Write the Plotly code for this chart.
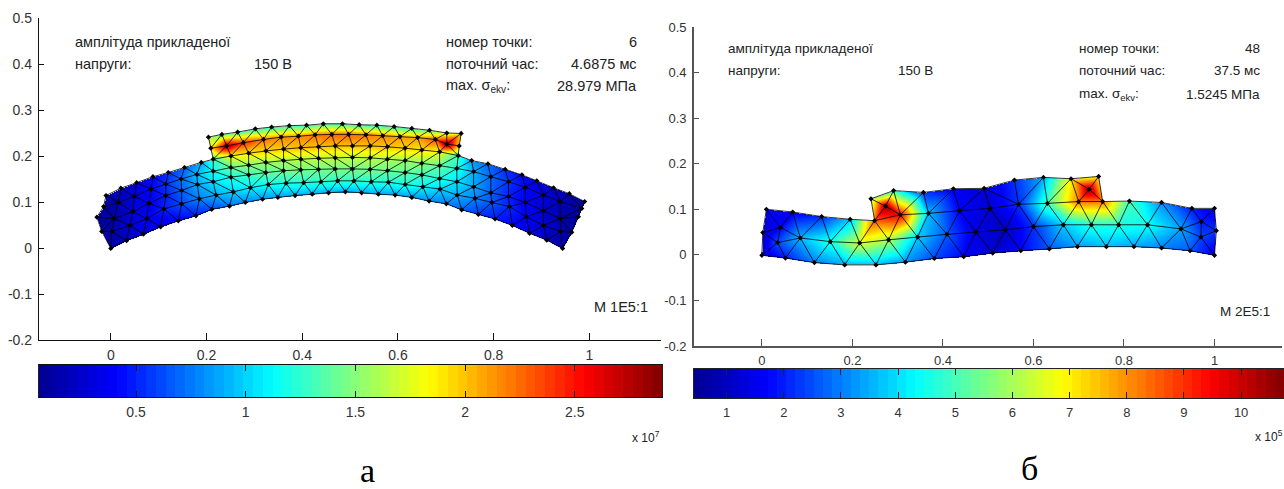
import numpy as np
import plotly.graph_objects as go

W, H = 1284, 489

# ---------- left mesh (rows of nodes, bottom to top), stress in 1e7 Pa ----------
L0_X = [0.000,0.033,0.068,0.104,0.141,0.178,0.211,0.248,0.281,0.317,0.349,0.385,0.421,0.455,0.490,0.524,0.559,0.594,0.629,0.665,0.701,0.733,0.768,0.803,0.839,0.875,0.911,0.944]
L0_Y = [-0.001,0.016,0.030,0.046,0.059,0.070,0.084,0.091,0.099,0.106,0.110,0.114,0.117,0.120,0.122,0.120,0.117,0.115,0.110,0.102,0.096,0.083,0.073,0.063,0.049,0.032,0.017,-0.001]
L0_V = [0.12,0.20,0.28,0.33,0.40,0.48,0.60,0.72,0.78,0.82,0.85,0.87,0.88,0.88,0.88,0.88,0.87,0.86,0.84,0.80,0.75,0.68,0.55,0.48,0.40,0.30,0.20,0.12]
L1_X = [-0.019,0.002,0.040,0.075,0.111,0.148,0.185,0.220,0.256,0.292,0.329,0.366,0.403,0.439,0.474,0.508,0.544,0.580,0.615,0.652,0.688,0.724,0.761,0.796,0.833,0.868,0.904,0.940,0.963]
L1_Y = [0.036,0.036,0.049,0.064,0.085,0.096,0.107,0.115,0.122,0.131,0.138,0.141,0.142,0.144,0.146,0.146,0.144,0.143,0.138,0.133,0.128,0.115,0.108,0.099,0.090,0.068,0.049,0.036,0.034]
L1_V = [0.12,0.15,0.28,0.38,0.50,0.62,0.78,0.90,1.00,1.08,1.15,1.20,1.22,1.25,1.25,1.25,1.22,1.20,1.18,1.10,1.00,0.90,0.78,0.65,0.52,0.40,0.28,0.18,0.12]
L2_X = [-0.029,0.007,0.046,0.080,0.115,0.148,0.181,0.214,0.251,0.288,0.324,0.361,0.397,0.434,0.469,0.505,0.542,0.578,0.615,0.650,0.687,0.723,0.758,0.794,0.831,0.866,0.904,0.939,0.977]
L2_Y = [0.067,0.064,0.079,0.097,0.114,0.125,0.138,0.144,0.154,0.159,0.164,0.168,0.170,0.171,0.172,0.172,0.171,0.168,0.164,0.159,0.151,0.144,0.133,0.120,0.112,0.099,0.081,0.064,0.068]
L2_V = [0.08,0.14,0.28,0.38,0.50,0.68,0.88,1.05,1.20,1.30,1.38,1.42,1.45,1.45,1.45,1.45,1.45,1.42,1.38,1.30,1.20,1.05,0.88,0.68,0.50,0.38,0.25,0.14,0.10]
L3_X = [-0.015,0.016,0.049,0.084,0.115,0.147,0.180,0.214,0.251,0.288,0.324,0.361,0.397,0.434,0.469,0.505,0.542,0.578,0.615,0.650,0.687,0.723,0.758,0.794,0.831,0.866,0.904,0.939,0.984]
L3_Y = [0.090,0.099,0.112,0.128,0.139,0.150,0.160,0.167,0.175,0.180,0.186,0.190,0.193,0.195,0.196,0.197,0.196,0.193,0.190,0.184,0.179,0.173,0.166,0.155,0.144,0.132,0.115,0.101,0.086]
L3_V = [0.10,0.18,0.30,0.42,0.55,0.72,0.95,1.15,1.40,1.50,1.55,1.60,1.63,1.65,1.65,1.65,1.65,1.60,1.55,1.50,1.40,1.20,0.90,0.70,0.55,0.42,0.30,0.20,0.10]
L4_X = [-0.010,0.021,0.054,0.088,0.120,0.154,0.189,0.214,0.251,0.288,0.324,0.361,0.397,0.434,0.469,0.505,0.542,0.578,0.615,0.650,0.687,0.726,0.754,0.788,0.824,0.859,0.890,0.925,0.958,0.990]
L4_Y = [0.114,0.130,0.142,0.155,0.164,0.175,0.186,0.193,0.200,0.206,0.211,0.215,0.218,0.220,0.222,0.222,0.222,0.220,0.217,0.213,0.209,0.201,0.190,0.183,0.171,0.159,0.146,0.131,0.118,0.101]
L4_V = [0.12,0.20,0.30,0.42,0.55,0.70,0.90,1.30,1.80,1.90,1.95,1.98,2.00,2.00,2.00,2.00,2.00,2.00,1.95,1.90,1.80,1.30,0.85,0.70,0.55,0.42,0.30,0.22,0.15,0.10]
L5_X = [0.209,0.242,0.277,0.319,0.356,0.392,0.427,0.462,0.497,0.533,0.568,0.604,0.641,0.678,0.702,0.728]
L5_Y = [0.217,0.222,0.229,0.236,0.241,0.243,0.246,0.247,0.247,0.246,0.244,0.242,0.240,0.236,0.226,0.222]
L5_V = [1.95,2.80,2.40,2.20,2.15,2.15,2.20,2.25,2.25,2.20,2.15,2.10,2.10,2.30,2.85,1.95]
L6_X = [0.204,0.232,0.265,0.302,0.336,0.373,0.409,0.444,0.484,0.519,0.556,0.592,0.629,0.666,0.702,0.732]
L6_Y = [0.241,0.247,0.252,0.259,0.263,0.266,0.267,0.270,0.270,0.268,0.267,0.264,0.260,0.256,0.250,0.249]
L6_V = [1.60,1.50,1.35,1.30,1.30,1.30,1.30,1.35,1.35,1.30,1.30,1.30,1.35,1.45,1.70,1.90]

# ---------- right mesh (indexed nodes and triangles), stress in 1e5 Pa ----------
R_X = [0.000,0.052,0.116,0.183,0.252,0.317,0.381,0.446,0.510,0.572,0.635,0.697,0.761,0.822,0.883,0.946,1.000,
       0.002,0.035,0.085,0.151,0.216,0.280,0.344,0.409,0.473,0.538,0.600,0.666,0.728,0.788,0.852,0.926,0.970,1.004,0.041,0.971,
       0.010,0.068,0.132,0.195,0.249,0.306,0.368,0.437,0.504,0.567,0.631,0.700,0.753,0.812,0.883,0.950,1.000,
       0.241,0.291,0.357,0.423,0.491,0.558,0.622,0.683,0.744,0.723,0.273]
R_Y = [-0.001,-0.007,-0.017,-0.022,-0.022,-0.016,-0.008,-0.004,0.004,0.009,0.013,0.018,0.018,0.018,0.015,0.009,-0.001,
       0.049,0.027,0.037,0.029,0.026,0.033,0.039,0.045,0.050,0.055,0.062,0.066,0.066,0.066,0.066,0.057,0.039,0.053,0.060,0.073,
       0.100,0.094,0.084,0.078,0.075,0.088,0.091,0.097,0.102,0.111,0.113,0.117,0.117,0.118,0.115,0.102,0.102,
       0.123,0.141,0.137,0.145,0.146,0.164,0.170,0.167,0.172,0.144,0.107]
R_V = [1.2,2.0,3.0,3.5,3.6,3.2,2.4,1.7,1.2,1.7,2.6,3.3,3.6,3.4,3.0,2.6,1.5,
       1.2,2.5,3.6,4.6,6.5,6.0,3.8,2.6,1.4,1.0,2.2,3.8,4.6,4.6,4.4,3.4,2.4,2.2,1.8,2.0,
       1.5,1.6,2.2,3.8,8.5,9.5,3.6,1.7,1.2,2.2,5.0,8.2,8.2,5.0,3.2,2.0,1.5,
       6.0,5.0,2.3,1.6,1.2,2.2,3.5,7.0,7.0,10.5,10.5]
R_TRI = [(0,17,18),(0,18,1),(1,18,19),(1,19,2),(2,19,20),(2,20,3),(3,20,21),(3,21,4),(4,21,22),(4,22,5),(5,22,23),(5,23,6),
         (6,23,24),(6,24,7),(7,24,25),(7,25,8),(8,25,26),(8,26,9),(9,26,27),(9,27,10),(10,27,28),(10,28,11),(11,28,29),(11,29,12),
         (12,29,30),(12,30,13),(13,30,31),(13,31,14),(14,31,32),(14,32,15),(15,32,33),(15,33,16),(16,33,34),
         (17,18,35),(18,19,35),(17,35,37),(35,37,38),(35,38,19),(19,38,39),(19,39,20),(20,39,40),(20,40,21),(21,40,41),(21,41,22),
         (22,41,42),(22,42,23),(23,42,43),(23,43,24),(24,43,44),(24,44,25),(25,44,45),(25,45,26),(26,45,46),(26,46,27),(27,46,47),
         (27,47,28),(28,47,48),(28,48,29),(29,48,49),(29,49,30),(30,49,50),(30,50,31),(31,50,51),(31,51,32),(32,51,52),(32,52,36),
         (32,36,33),(33,36,34),(34,36,53),(36,52,53),
         (41,54,64),(54,55,64),(64,55,42),(41,64,42),(55,56,42),(42,56,43),(56,57,43),(43,57,44),(57,58,44),(44,58,45),
         (58,45,46),(58,59,46),(59,60,46),(60,46,47),(60,61,47),(61,47,48),(48,61,63),(61,62,63),(62,49,63),(48,63,49)]

# ---------- colour bars and ticks ----------
CB_L = (0.0575, 2.8979)
CB_R = (0.43, 10.75)
CB_L_TICKS = [0.5, 1, 1.5, 2, 2.5]
CB_L_TEXT = ["0.5", "1", "1.5", "2", "2.5"]
CB_R_TICKS = [1, 2, 3, 4, 5, 6, 7, 8, 9, 10]
X_TICKS = [0, 0.2, 0.4, 0.6, 0.8, 1]
X_TEXT = ["0", "0.2", "0.4", "0.6", "0.8", "1"]
Y_TICKS = [-0.2, -0.1, 0, 0.1, 0.2, 0.3, 0.4, 0.5]
Y_TEXT = ["-0.2", "-0.1", "0", "0.1", "0.2", "0.3", "0.4", "0.5"]

JET = [[0, "rgb(0,0,143)"], [0.125, "rgb(0,0,255)"], [0.375, "rgb(0,255,255)"],
       [0.625, "rgb(255,255,0)"], [0.875, "rgb(255,0,0)"], [1, "rgb(128,0,0)"]]
FONT = "Liberation Sans"


def strip(lo, up, X, Y):
    tris, i, j = [], 0, 0
    d = lambda a, b: (X[a] - X[b]) ** 2 + (Y[a] - Y[b]) ** 2
    while i < len(lo) - 1 or j < len(up) - 1:
        if i == len(lo) - 1:
            adv_lo = False
        elif j == len(up) - 1:
            adv_lo = True
        else:
            adv_lo = d(lo[i + 1], up[j]) <= d(lo[i], up[j + 1])
        if adv_lo:
            tris.append((lo[i], lo[i + 1], up[j]))
            i += 1
        else:
            tris.append((lo[i], up[j + 1], up[j]))
            j += 1
    return tris


rows = [(L0_X, L0_Y, L0_V), (L1_X, L1_Y, L1_V), (L2_X, L2_Y, L2_V), (L3_X, L3_Y, L3_V),
        (L4_X, L4_Y, L4_V), (L5_X, L5_Y, L5_V), (L6_X, L6_Y, L6_V)]
L_X, L_Y, L_V, idx = [], [], [], []
for rx, ry, rv in rows:
    idx.append(list(range(len(L_X), len(L_X) + len(rx))))
    L_X += rx
    L_Y += ry
    L_V += rv
L_TRI = []
for k in range(3 + 1):
    L_TRI += strip(idx[k], idx[k + 1], L_X, L_Y)
L_TRI += strip(idx[4][7:22], idx[5], L_X, L_Y)
L_TRI += strip(idx[5], idx[6], L_X, L_Y)


def raster(X, Y, V, tris, nx, ny):
    X, Y, V = map(np.asarray, (X, Y, V))
    gx = np.linspace(-0.15, 1.15, nx)
    gy = np.linspace(-0.2, 0.5, ny)
    Z = np.full((ny, nx), np.nan)
    for a, b, c in tris:
        xs, ys = X[[a, b, c]], Y[[a, b, c]]
        i0, i1 = np.searchsorted(gx, xs.min()), np.searchsorted(gx, xs.max())
        j0, j1 = np.searchsorted(gy, ys.min()), np.searchsorted(gy, ys.max())
        if i1 <= i0 or j1 <= j0:
            continue
        px, py = np.meshgrid(gx[i0:i1], gy[j0:j1])
        det = (ys[1] - ys[2]) * (xs[0] - xs[2]) + (xs[2] - xs[1]) * (ys[0] - ys[2])
        if abs(det) < 1e-12:
            continue
        l0 = ((ys[1] - ys[2]) * (px - xs[2]) + (xs[2] - xs[1]) * (py - ys[2])) / det
        l1 = ((ys[2] - ys[0]) * (px - xs[2]) + (xs[0] - xs[2]) * (py - ys[2])) / det
        l2 = 1 - l0 - l1
        m = (l0 >= -1e-3) & (l1 >= -1e-3) & (l2 >= -1e-3)
        val = l0 * V[a] + l1 * V[b] + l2 * V[c]
        Z[j0:j1, i0:i1][m] = val[m]
    keep_x = np.where(~np.isnan(Z).all(axis=0))[0]
    keep_y = np.where(~np.isnan(Z).all(axis=1))[0]
    sx = slice(keep_x[0], keep_x[-1] + 1)
    sy = slice(keep_y[0], keep_y[-1] + 1)
    return gx[sx], gy[sy], np.round(Z[sy, sx], 3)


def edges(X, Y, tris):
    seen, ex, ey = set(), [], []
    for t in tris:
        for a, b in ((t[0], t[1]), (t[1], t[2]), (t[2], t[0])):
            key = (min(a, b), max(a, b))
            if key not in seen:
                seen.add(key)
                ex += [X[a], X[b], None]
                ey += [Y[a], Y[b], None]
    return ex, ey


def dom(a, b, size, flip=False):
    return [1 - b / size, 1 - a / size] if flip else [a / size, b / size]


fig = go.Figure()


def panel(n, X, Y, V, tris, cb, nx, ny, ms):
    ax, ay = ("x", "y") if n == 1 else (f"x{n}", f"y{n}")
    gx, gy, Z = raster(X, Y, V, tris, nx, ny)
    fig.add_trace(go.Heatmap(x=gx, y=gy, z=Z, xaxis=ax, yaxis=ay, colorscale=JET, zmin=cb[0], zmax=cb[1],
                             showscale=False, hoverinfo="skip"))
    ex, ey = edges(X, Y, tris)
    fig.add_trace(go.Scatter(x=ex, y=ey, xaxis=ax, yaxis=ay, mode="lines", showlegend=False, hoverinfo="skip",
                             line=dict(color="rgba(0,0,0,0.8)", width=1)))
    fig.add_trace(go.Scatter(x=X, y=Y, xaxis=ax, yaxis=ay, mode="markers", showlegend=False, hoverinfo="skip",
                             marker=dict(symbol="diamond", size=ms, color="black", line=dict(width=0))))


def cbar(n, cb):
    ax, ay = f"x{n}", f"y{n}"
    edges_ = np.linspace(cb[0], cb[1], 65)
    centers = (edges_[:-1] + edges_[1:]) / 2
    fig.add_trace(go.Heatmap(x=centers, y=[0, 1], z=[list(centers), list(centers)], xaxis=ax, yaxis=ay,
                             colorscale=JET, zmin=cb[0], zmax=cb[1], showscale=False, hoverinfo="skip"))


panel(1, L_X, L_Y, L_V, L_TRI, CB_L, 623, 323, 4)
panel(2, R_X, R_Y, R_V, R_TRI, CB_R, 589, 320, 4)
cbar(3, CB_L)
cbar(4, CB_R)


def axis_x(dm, anchor, color, lw, size, vals=X_TICKS, text=X_TEXT, rng=(-0.15, 1.15), mirror=False, tl=7):
    return dict(domain=dm, anchor=anchor, range=list(rng), tickmode="array", tickvals=vals, ticktext=text,
                ticks="inside", ticklen=tl, tickcolor=color, tickwidth=1, showgrid=False, zeroline=False,
                showline=True, linecolor=color, linewidth=lw, mirror=mirror, automargin=False,
                tickfont=dict(family=FONT, size=size, color="#333"), ticklabelstandoff=2)


def axis_y(dm, anchor, color, lw, size):
    return dict(domain=dm, anchor=anchor, range=[-0.2, 0.5], tickmode="array", tickvals=Y_TICKS, ticktext=Y_TEXT,
                ticks="inside", ticklen=5, tickcolor=color, tickwidth=1, showgrid=False, zeroline=False,
                showline=True, linecolor=color, linewidth=lw, automargin=False,
                tickfont=dict(family=FONT, size=size, color="#333"), ticklabelstandoff=3)


def axis_bar(dm, anchor, color):
    return dict(domain=dm, anchor=anchor, range=[0, 1], showticklabels=False, ticks="", showgrid=False,
                zeroline=False, showline=True, linecolor=color, linewidth=1, mirror=True, automargin=False)


fig.update_layout(
    width=W, height=H, margin=dict(l=0, r=0, t=0, b=0, pad=0, autoexpand=False),
    paper_bgcolor="white", plot_bgcolor="white", showlegend=False,
    xaxis=axis_x(dom(39, 661.2, W), "y", "#111", 1.3, 14),
    yaxis=axis_y(dom(18, 340, H, True), "x", "#111", 1.3, 14),
    xaxis2=axis_x(dom(694, 1282.4, W), "y2", "#555", 1.7, 13),
    yaxis2=axis_y(dom(27, 346, H, True), "x2", "#555", 1.7, 13),
    xaxis3=axis_x(dom(39, 662, W), "y3", "#111", 1, 14, CB_L_TICKS, CB_L_TEXT, CB_L, "ticks", 6),
    yaxis3=axis_bar(dom(365, 397, H, True), "x3", "#222"),
    xaxis4=axis_x(dom(694, 1284, W), "y4", "#222", 1, 13, CB_R_TICKS, [str(t) for t in CB_R_TICKS], CB_R, "ticks", 6),
    yaxis4=axis_bar(dom(369, 398, H, True), "x4", "#222"),
)


def note(text, x, y, xref, yref, size=12.5, anchor="left", color="#222", family=FONT):
    fig.add_annotation(text=text, x=x, y=y, xref=xref, yref=yref, showarrow=False, xanchor=anchor, yanchor="middle",
                       font=dict(family=family, size=size, color=color), borderpad=0, borderwidth=0)


for (xr, yr, sz, ya, yb, yc, yd, num, tm, mx, scale) in [
    ("x", "y", 14.5, 0.448, 0.400, 0.352, -0.128, "6", "4.6875 мс", "28.979 МПа", "M 1E5:1"),
    ("x2", "y2", 13.5, 0.452, 0.404, 0.351, -0.125, "48", "37.5 мс", "1.5245 МПа", "M 2E5:1"),
]:
    note("амплітуда прикладеної", -0.074, ya, xr, yr, sz)
    note("напруги:", -0.074, yb, xr, yr, sz)
    note("150 В", 0.339, yb, xr, yr, sz, "center")
    note("номер точки:", 0.70, ya, xr, yr, sz)
    note("поточний час:", 0.70, yb, xr, yr, sz)
    note("max. σ<sub>ekv</sub>:", 0.70, yc, xr, yr, sz)
    note(num, 1.10, ya, xr, yr, sz, "right")
    note(tm, 1.10, yb, xr, yr, sz, "right")
    note(mx, 1.10, yc, xr, yr, sz, "right")
    note(scale, 1.123, yd, xr, yr, sz, "right")

note("x 10<sup>7</sup>", 660 / W, 1 - 437 / H, "paper", "paper", 12, "right")
note("x 10<sup>5</sup>", 1283 / W, 1 - 436 / H, "paper", "paper", 12, "right")
note("а", 367 / W, 1 - 470 / H, "paper", "paper", 34, "center", "black", "Liberation Serif")
note("б", 1029 / W, 1 - 468 / H, "paper", "paper", 34, "center", "black", "Liberation Serif")

fig.write_html("out.html", config={"displayModeBar": False},
               post_script="document.body.style.margin='0';document.documentElement.style.overflow='hidden';window.dispatchEvent(new Event('resize'));")
